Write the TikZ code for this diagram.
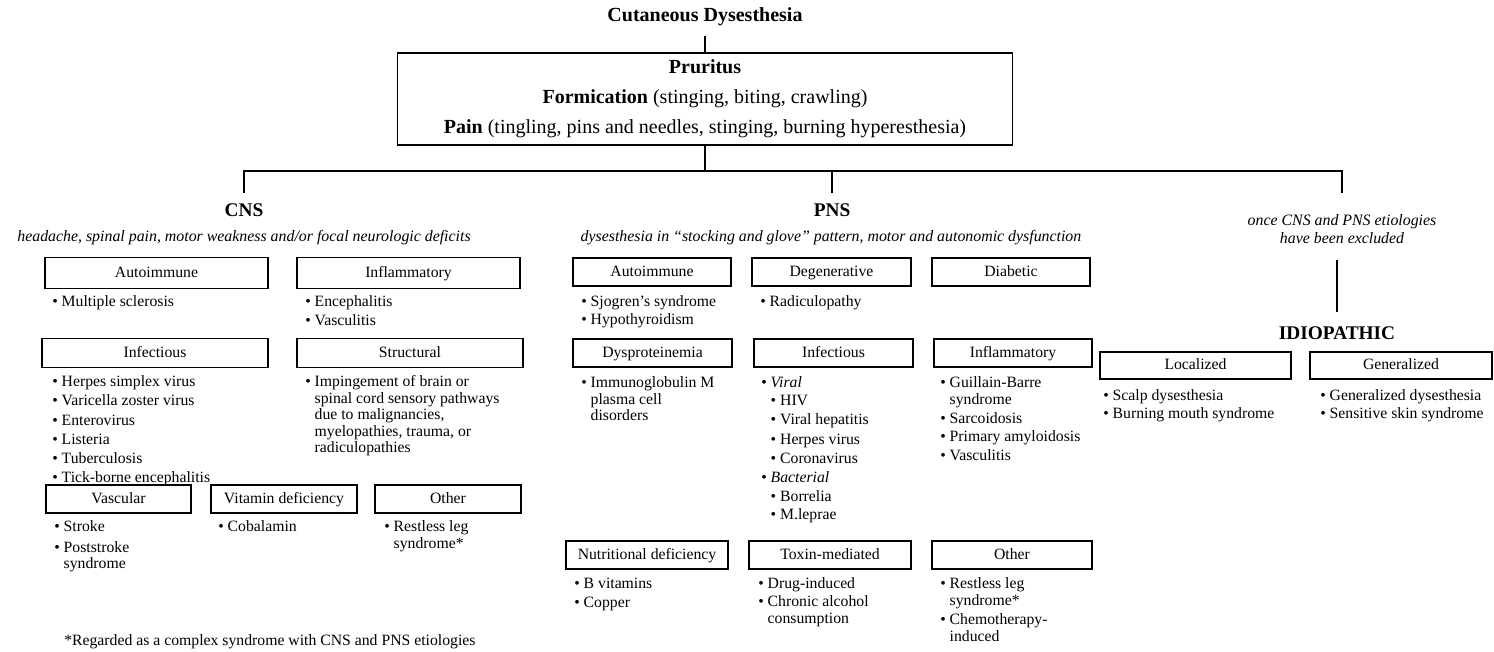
\documentclass[tikz,border=0pt]{standalone}
\usepackage{fontspec}
\setmainfont{Liberation Serif}
\newcommand{\bul}{\textbullet\ }
\newcommand{\hng}{\phantom{\textbullet\ }}
\newcommand{\fl}{\rule{0pt}{9pt}}
\begin{document}
\begin{tikzpicture}[x=0.75pt,y=-0.75pt,
  cat/.style={draw, line width=1.1pt, inner sep=0pt, text height=0.78em, text depth=0.12em, font=\fontsize{11.8}{13}\selectfont},
  lst/.style={anchor=north west, inner sep=0pt, align=left, font=\fontsize{11.8}{12.4}\selectfont},
  conn/.style={line width=1pt},
  head/.style={font=\fontsize{14.5}{16}\selectfont\bfseries},
  sub/.style={font=\fontsize{11.9}{13.5}\selectfont\itshape, align=center}]
\useasboundingbox (0,0) rectangle (1494,651);
% top
\node[font=\fontsize{15}{18}\selectfont\bfseries] (title) at (705,17) {Cutaneous Dysesthesia};
\node[draw, line width=1.3pt, minimum width=615*0.75pt, minimum height=92*0.75pt, align=center,
      font=\fontsize{15}{22.5}\selectfont] (main) at (705,99)
  {\textbf{Pruritus}\\\textbf{Formication} (stinging, biting, crawling)\\\textbf{Pain} (tingling, pins and needles, stinging, burning hyperesthesia)};
\coordinate (tt) at (705,36);
\draw[conn] (tt) -- (main.north);
\coordinate (bj) at (705,171);
\coordinate (tc) at (244,193);
\coordinate (tp) at (832,193);
\coordinate (ti) at (1342,193);
\draw[conn] (main.south) -- (bj);
\draw[conn] (tc) -- (tc |- bj) -- (ti |- bj) -- (ti);
\draw[conn] (tp) -- (tp |- bj);
\node[head] (cns) at (244,210) {CNS};
\node[head] (pns) at (832,210) {PNS};
\node[sub] (cnssub) at (244,238) {headache, spinal pain, motor weakness and/or focal neurologic deficits};
\node[sub] (pnssub) at (831,238) {dysesthesia in “stocking and glove” pattern, motor and autonomic dysfunction};
\node[sub] (once) at (1342,229) {once CNS and PNS etiologies\\have been excluded};
\coordinate (iu) at (1337,260);
\coordinate (idl) at (1337,312);
\draw[conn] (iu) -- (idl);
\node[head] (idio) at (1337,333) {IDIOPATHIC};
% CNS boxes
\node[cat, minimum width=223*0.75pt, minimum height=31*0.75pt] (cA) at (156.5,273) {Autoimmune};
\node[cat, minimum width=223*0.75pt, minimum height=31*0.75pt] (cI) at (408.5,273) {Inflammatory};
\node[cat, minimum width=226*0.75pt, minimum height=29*0.75pt] (cInf) at (155,353) {Infectious};
\node[cat, minimum width=226*0.75pt, minimum height=29*0.75pt] (cS) at (410,353) {Structural};
\node[cat, minimum width=145*0.75pt, minimum height=28*0.75pt] (cV) at (118.5,499) {Vascular};
\node[cat, minimum width=146*0.75pt, minimum height=28*0.75pt] (cVit) at (284,499) {Vitamin deficiency};
\node[cat, minimum width=146*0.75pt, minimum height=28*0.75pt] (cO) at (448,499) {Other};
% CNS lists
\node[lst] (cAl) at (52,294.5) {\fl\bul Multiple sclerosis};
\node[lst] (cIl) at (305,294.5) {\fl\bul Encephalitis\\[2pt]\bul Vasculitis};
\node[lst] (cInfl) at (52,374.5) {\fl\bul Herpes simplex virus\\[2pt]\bul Varicella zoster virus\\[2pt]\bul Enterovirus\\[2pt]\bul Listeria\\[2pt]\bul Tuberculosis\\[2pt]\bul Tick-borne encephalitis};
\node[lst] (cSl) at (305,374.5) {\fl\bul Impingement of brain or\\\hng spinal cord sensory pathways\\\hng due to malignancies,\\\hng myelopathies, trauma, or\\\hng radiculopathies};
\node[lst] (cVl) at (54,519.5) {\fl\bul Stroke\\[3pt]\bul Poststroke\\\hng syndrome};
\node[lst] (cVitl) at (218,519.5) {\fl\bul Cobalamin};
\node[lst] (cOl) at (384,519.5) {\fl\bul Restless leg\\\hng syndrome*};
% PNS boxes
\node[cat, minimum width=158*0.75pt, minimum height=28*0.75pt] (pA) at (652,272) {Autoimmune};
\node[cat, minimum width=159*0.75pt, minimum height=28*0.75pt] (pD) at (831.5,272) {Degenerative};
\node[cat, minimum width=158*0.75pt, minimum height=28*0.75pt] (pDi) at (1011,272) {Diabetic};
\node[cat, minimum width=159*0.75pt, minimum height=28*0.75pt] (pDy) at (652.5,353) {Dysproteinemia};
\node[cat, minimum width=159*0.75pt, minimum height=28*0.75pt] (pI) at (833.5,353) {Infectious};
\node[cat, minimum width=158*0.75pt, minimum height=28*0.75pt] (pIn) at (1013,353) {Inflammatory};
\node[cat, minimum width=162*0.75pt, minimum height=28*0.75pt] (pN) at (647,555) {Nutritional deficiency};
\node[cat, minimum width=162*0.75pt, minimum height=28*0.75pt] (pT) at (830,555) {Toxin-mediated};
\node[cat, minimum width=160*0.75pt, minimum height=28*0.75pt] (pO) at (1012,555) {Other};
% PNS lists
\node[lst] (pAl) at (581,294.5) {\fl\bul Sjogren's syndrome\\[1pt]\bul Hypothyroidism};
\node[lst] (pDl) at (760,294.5) {\fl\bul Radiculopathy};
\node[lst] (pDyl) at (581,375.5) {\fl\bul Immunoglobulin M\\\hng plasma cell\\\hng disorders};
\node[lst] (pIl) at (761,375.5) {\fl\bul \textit{Viral}\\[1pt]\hng\bul HIV\\[2pt]\hng\bul Viral hepatitis\\[2pt]\hng\bul Herpes virus\\[2pt]\hng\bul Coronavirus\\[2pt]\bul \textit{Bacterial}\\[2pt]\hng\bul Borrelia\\[1pt]\hng\bul M.leprae};
\node[lst] (pInl) at (940,375.5) {\fl\bul Guillain-Barre\\\hng syndrome\\[2pt]\bul Sarcoidosis\\[1pt]\bul Primary amyloidosis\\[2pt]\bul Vasculitis};
\node[lst] (pNl) at (574,576.5) {\fl\bul B vitamins\\[2pt]\bul Copper};
\node[lst] (pTl) at (758,576.5) {\fl\bul Drug-induced\\[1pt]\bul Chronic alcohol\\\hng consumption};
\node[lst] (pOl) at (940,576.5) {\fl\bul Restless leg\\\hng syndrome*\\[2pt]\bul Chemotherapy-\\\hng induced};
% Idiopathic
\node[cat, minimum width=191*0.75pt, minimum height=27*0.75pt] (iL) at (1195.5,365.5) {Localized};
\node[cat, minimum width=182*0.75pt, minimum height=27*0.75pt] (iG) at (1401,365.5) {Generalized};
\node[lst] (iLl) at (1103,388.5) {\fl\bul Scalp dysesthesia\\[1pt]\bul Burning mouth syndrome};
\node[lst] (iGl) at (1320,388.5) {\fl\bul Generalized dysesthesia\\[1pt]\bul Sensitive skin syndrome};
% footnote
\node[anchor=west, inner sep=0pt, font=\fontsize{11.8}{13}\selectfont] (foot) at (64,642) {*Regarded as a complex syndrome with CNS and PNS etiologies};
\end{tikzpicture}
\end{document}
